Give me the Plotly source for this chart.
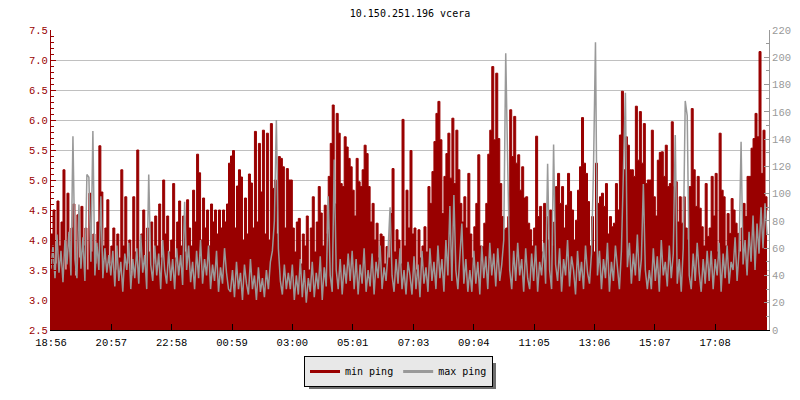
import plotly.graph_objects as go

# ---------------- data ----------------
title_text = "10.150.251.196 vcera"
time_labels = ["18:56", "20:57", "22:58", "00:59", "03:00", "05:01",
               "07:03", "09:04", "11:05", "13:06", "15:07", "17:08"]
sample_minutes = 4  # one sample every 4 minutes, 24 h of data

min_ping_a = [4.1, 4.5, 3.6, 4.65, 3.9, 4.3, 5.17, 3.5, 4.78, 3.8, 4.2, 4.6, 3.4, 4.42, 3.7,
              4.56, 3.9, 4.2, 3.5, 4.78, 3.8, 4.1, 3.6, 4.3, 5.57, 4.8, 3.9, 4.2, 4.67, 3.6,
              3.9, 4.2, 3.5, 4.1, 3.7, 5.17, 3.9, 4.72, 3.6, 4.0, 3.4, 4.72, 3.8, 5.5, 3.7,
              4.1, 4.5, 3.5, 4.2, 3.8, 4.3, 3.6, 4.4, 3.9, 4.6, 3.7, 5.0, 4.1, 4.4, 3.8,
              4.0, 4.94, 3.7, 4.3, 4.65, 3.9, 4.4, 3.8, 4.67, 4.2, 3.9, 4.83, 4.3, 5.43, 5.12,
              4.0, 4.7, 4.2, 4.5, 3.9, 4.6, 4.3, 4.5, 4.1, 4.5, 4.2, 4.5, 4.3, 4.6, 5.28]
min_ping_b = [5.4, 5.49, 4.2, 4.9, 5.17, 5.05, 4.0, 4.7, 4.1, 5.1, 4.95, 4.2, 5.81, 4.3, 5.61,
              4.8, 5.83, 4.1, 5.78, 4.0, 5.94, 4.86, 5.0, 4.1, 5.39, 5.36, 5.22, 4.2, 5.19, 5.0,
              5.0, 4.2, 3.8, 4.3, 4.36, 3.6, 4.1, 3.9, 4.4, 3.5, 4.2, 4.72, 3.8, 4.3, 4.89,
              4.45, 3.9, 4.58, 4.1, 5.06, 5.61, 6.25, 4.6, 6.11, 5.78, 4.94, 4.89, 5.72, 5.55, 5.36,
              5.22, 4.83, 4.4, 5.36, 4.97, 4.89, 5.17, 5.58, 5.44, 4.89, 4.3, 4.61, 4.0, 4.28, 3.7,
              4.1, 4.06, 3.6, 3.89, 3.7, 4.44, 5.19, 3.8, 4.17, 4.0, 3.6, 6.01, 3.9, 4.83, 4.2]
min_ping_c = [5.49, 4.1, 4.2, 3.5, 4.17, 3.7, 3.9, 4.22, 3.8, 4.89, 4.61, 5.14, 5.64, 6.11, 6.31,
              5.67, 4.44, 5.06, 5.44, 5.78, 5.03, 6.03, 4.94, 5.83, 5.17, 4.61, 4.3, 4.72, 4.2, 5.11,
              4.1, 3.7, 4.22, 4.61, 5.42, 3.9, 3.89, 4.28, 4.61, 5.43, 5.83, 6.89, 5.67, 6.78, 5.69,
              4.94, 4.39, 4.17, 4.2, 4.39, 6.17, 5.39, 6.06, 5.28, 5.42, 4.83, 5.22, 4.7, 4.72, 4.28,
              4.17, 3.9, 4.2, 5.73, 4.39, 4.56, 3.8, 4.61, 4.39, 4.0, 4.5, 3.9, 4.3, 4.89, 5.11,
              4.61, 4.89, 4.2, 4.58, 5.11, 4.81, 4.5, 4.0, 4.33, 4.83, 5.22, 6.04, 5.28, 5.11, 4.64]
min_ping_d = [3.9, 4.39, 3.8, 5.28, 4.61, 4.72, 4.78, 4.56, 4.94, 4.1, 4.39, 4.22, 4.28, 4.94, 4.5,
              5.75, 6.48, 5.17, 5.72, 5.58, 5.17, 5.17, 5.06, 6.23, 5.33, 6.14, 5.28, 5.94, 4.94, 5.0,
              5.0, 5.83, 4.72, 4.4, 5.33, 5.46, 5.47, 5.06, 5.58, 4.89, 4.94, 5.97, 4.89, 4.97, 4.3,
              4.72, 4.28, 4.72, 4.2, 4.0, 4.89, 6.19, 5.17, 4.56, 5.06, 4.53, 4.22, 3.9, 4.94, 4.06,
              4.2, 5.06, 4.4, 5.11, 3.8, 5.78, 4.83, 4.72, 3.9, 4.44, 4.11, 4.69, 4.5, 4.28, 4.11,
              3.8, 4.2, 4.61, 4.39, 5.06, 5.06, 5.53, 5.69, 6.11, 5.72, 7.14, 5.11, 5.83, 4.72, 4.5]

max_ping_a = [45, 62, 38, 70, 42, 58, 35, 66, 48, 72, 40, 142, 52, 38, 92,
              45, 68, 36, 114, 112, 50, 146, 40, 64, 44, 98, 38, 60, 42, 55,
              40, 58, 32, 62, 36, 50, 28, 56, 44, 64, 30, 52, 38, 60, 34,
              70, 42, 55, 30, 114, 48, 36, 62, 40, 56, 30, 66, 44, 34, 58,
              36, 52, 30, 60, 40, 55, 33, 94, 44, 62, 35, 50, 30, 58, 38,
              66, 34, 52, 40, 62, 30, 48, 36, 58, 28, 46, 34, 60, 42, 30]
max_ping_b = [28, 44, 24, 50, 30, 42, 22, 48, 34, 26, 52, 30, 40, 22, 46,
              28, 38, 24, 44, 30, 50, 58, 80, 154, 60, 36, 26, 48, 30, 42,
              30, 48, 22, 40, 26, 52, 24, 44, 20, 38, 28, 50, 24, 42, 30,
              54, 22, 46, 32, 98, 40, 28, 125, 44, 30, 52, 26, 48, 34, 56,
              36, 58, 30, 52, 26, 48, 34, 60, 28, 44, 32, 56, 26, 50, 38,
              62, 30, 46, 36, 58, 90, 40, 28, 52, 34, 60, 30, 44, 26, 50]
max_ping_c = [40, 26, 54, 30, 48, 24, 58, 34, 46, 28, 60, 36, 50, 30, 62,
              38, 52, 28, 66, 40, 91, 36, 99, 44, 30, 58, 78, 34, 52, 28,
              44, 28, 58, 34, 50, 26, 62, 38, 54, 30, 64, 40, 56, 32, 60,
              36, 48, 66, 203, 120, 44, 30, 58, 36, 64, 40, 52, 28, 60, 38,
              30, 56, 36, 62, 28, 50, 40, 64, 34, 122, 44, 30, 136, 48, 36,
              60, 28, 52, 40, 66, 32, 54, 44, 26, 58, 36, 50, 30, 62, 42]
max_ping_d = [34, 56, 118, 211, 40, 58, 30, 52, 38, 64, 28, 50, 36, 62, 44,
              30, 58, 110, 174, 46, 64, 34, 56, 40, 70, 36, 52, 107, 44, 30,
              44, 30, 60, 36, 54, 28, 66, 40, 50, 32, 62, 38, 56, 143, 34,
              52, 28, 60, 168, 157, 40, 30, 56, 36, 64, 42, 28, 52, 34, 58,
              36, 58, 30, 52, 40, 64, 28, 56, 38, 62, 34, 50, 44, 68, 36,
              58, 138, 48, 66, 40, 72, 50, 84, 44, 78, 56, 90, 60, 93, 70]

min_ping = min_ping_a + min_ping_b + min_ping_c + min_ping_d
max_ping = max_ping_a + max_ping_b + max_ping_c + max_ping_d

# ---------------- derived ----------------
def minutes_from_start(label):
    h, m = map(int, label.split(":"))
    h0, m0 = map(int, time_labels[0].split(":"))
    return ((h * 60 + m) - (h0 * 60 + m0)) % 1440

x = [i * sample_minutes for i in range(len(min_ping))]
tickvals = [minutes_from_start(l) for l in time_labels]

RED = "#990000"
GRAY = "#999999"
FONT = "DejaVu Sans Mono"
TICKFONT = "Liberation Mono"

fig = go.Figure()
fig.add_trace(go.Scatter(x=x, y=min_ping, mode="lines", name="min ping",
                         line=dict(color=RED, width=1, shape="hv"), fill="tozeroy",
                         fillcolor=RED, showlegend=False, yaxis="y",
                         hoverinfo="skip"))
fig.add_trace(go.Scatter(x=x, y=max_ping, mode="lines", name="max ping",
                         line=dict(color=GRAY, width=1.5), showlegend=False,
                         yaxis="y2", hoverinfo="skip"))
# legend entries
fig.add_trace(go.Scatter(x=[None], y=[None], mode="lines", name="min ping",
                         line=dict(color=RED, width=3)))
fig.add_trace(go.Scatter(x=[None], y=[None], mode="lines", name="max ping",
                         line=dict(color=GRAY, width=3)))

W, H = 800, 400
ML, MR, MT, MB = 51, 31, 30, 70
PW, PH = W - ML - MR, H - MT - MB

def px_x(p):
    return (p - ML) / PW

def px_y(p):
    return (MT + PH - p) / PH

# legend box as rendered (approx) and its drop shadow
leg_l, leg_r, leg_t, leg_b = 305, 492, 359, 385
fig.add_shape(type="rect", xref="paper", yref="paper",
              x0=px_x(leg_l + 4), x1=px_x(leg_r + 4),
              y0=px_y(leg_t + 4), y1=px_y(leg_b + 4),
              fillcolor="#6e6e6e", line=dict(width=0), layer="above")

fig.update_layout(
    width=W, height=H,
    margin=dict(l=ML, r=MR, t=MT, b=MB, autoexpand=False),
    paper_bgcolor="white", plot_bgcolor="white",
    font=dict(family=FONT, size=10, color="black"),
    title=dict(text=title_text, x=0.5, xref="paper", y=1 - 13 / H,
               yanchor="middle", font=dict(family=FONT, size=10, color="black")),
    xaxis=dict(range=[0, 1440], tickvals=tickvals, ticktext=time_labels,
               ticks="inside", ticklen=6, tickcolor="black",
               showline=True, linecolor="black", linewidth=1,
               showgrid=False, zeroline=False, automargin=False,
               ticklabelstandoff=2,
               tickfont=dict(family=TICKFONT, size=10.5, color="black")),
    yaxis=dict(range=[2.5, 7.5], tick0=2.5, dtick=0.5, tickformat=".1f",
               ticks="inside", ticklen=5, tickcolor=RED,
               showline=True, linecolor=RED, linewidth=1,
               gridcolor="#c0c0c0", gridwidth=1, zeroline=False, automargin=False,
               tickfont=dict(family=TICKFONT, size=10.5, color=RED),
               minor=dict(dtick=0.1, ticks="inside", ticklen=3,
                          tickcolor=RED, showgrid=False)),
    yaxis2=dict(range=[0, 220], tick0=0, dtick=20, overlaying="y", side="right",
                ticks="inside", ticklen=5, tickcolor=GRAY,
                showline=True, linecolor=GRAY, linewidth=1,
                showgrid=False, zeroline=False, automargin=False,
                tickfont=dict(family=TICKFONT, size=10.5, color=GRAY),
                minor=dict(dtick=10, ticks="inside", ticklen=3,
                           tickcolor=GRAY, showgrid=False)),
    legend=dict(orientation="h", xref="container", yref="container",
                x=(leg_l + leg_r) / 2 / W, xanchor="center",
                y=1 - (leg_t - 3) / H, yanchor="top",
                bgcolor="#e8e8e8", bordercolor="black", borderwidth=1,
                font=dict(family=FONT, size=10, color="black"),
                itemwidth=30),
)

fig.write_html("out.html",
               config={"displayModeBar": False},
               post_script="document.body.style.margin='0px';")
